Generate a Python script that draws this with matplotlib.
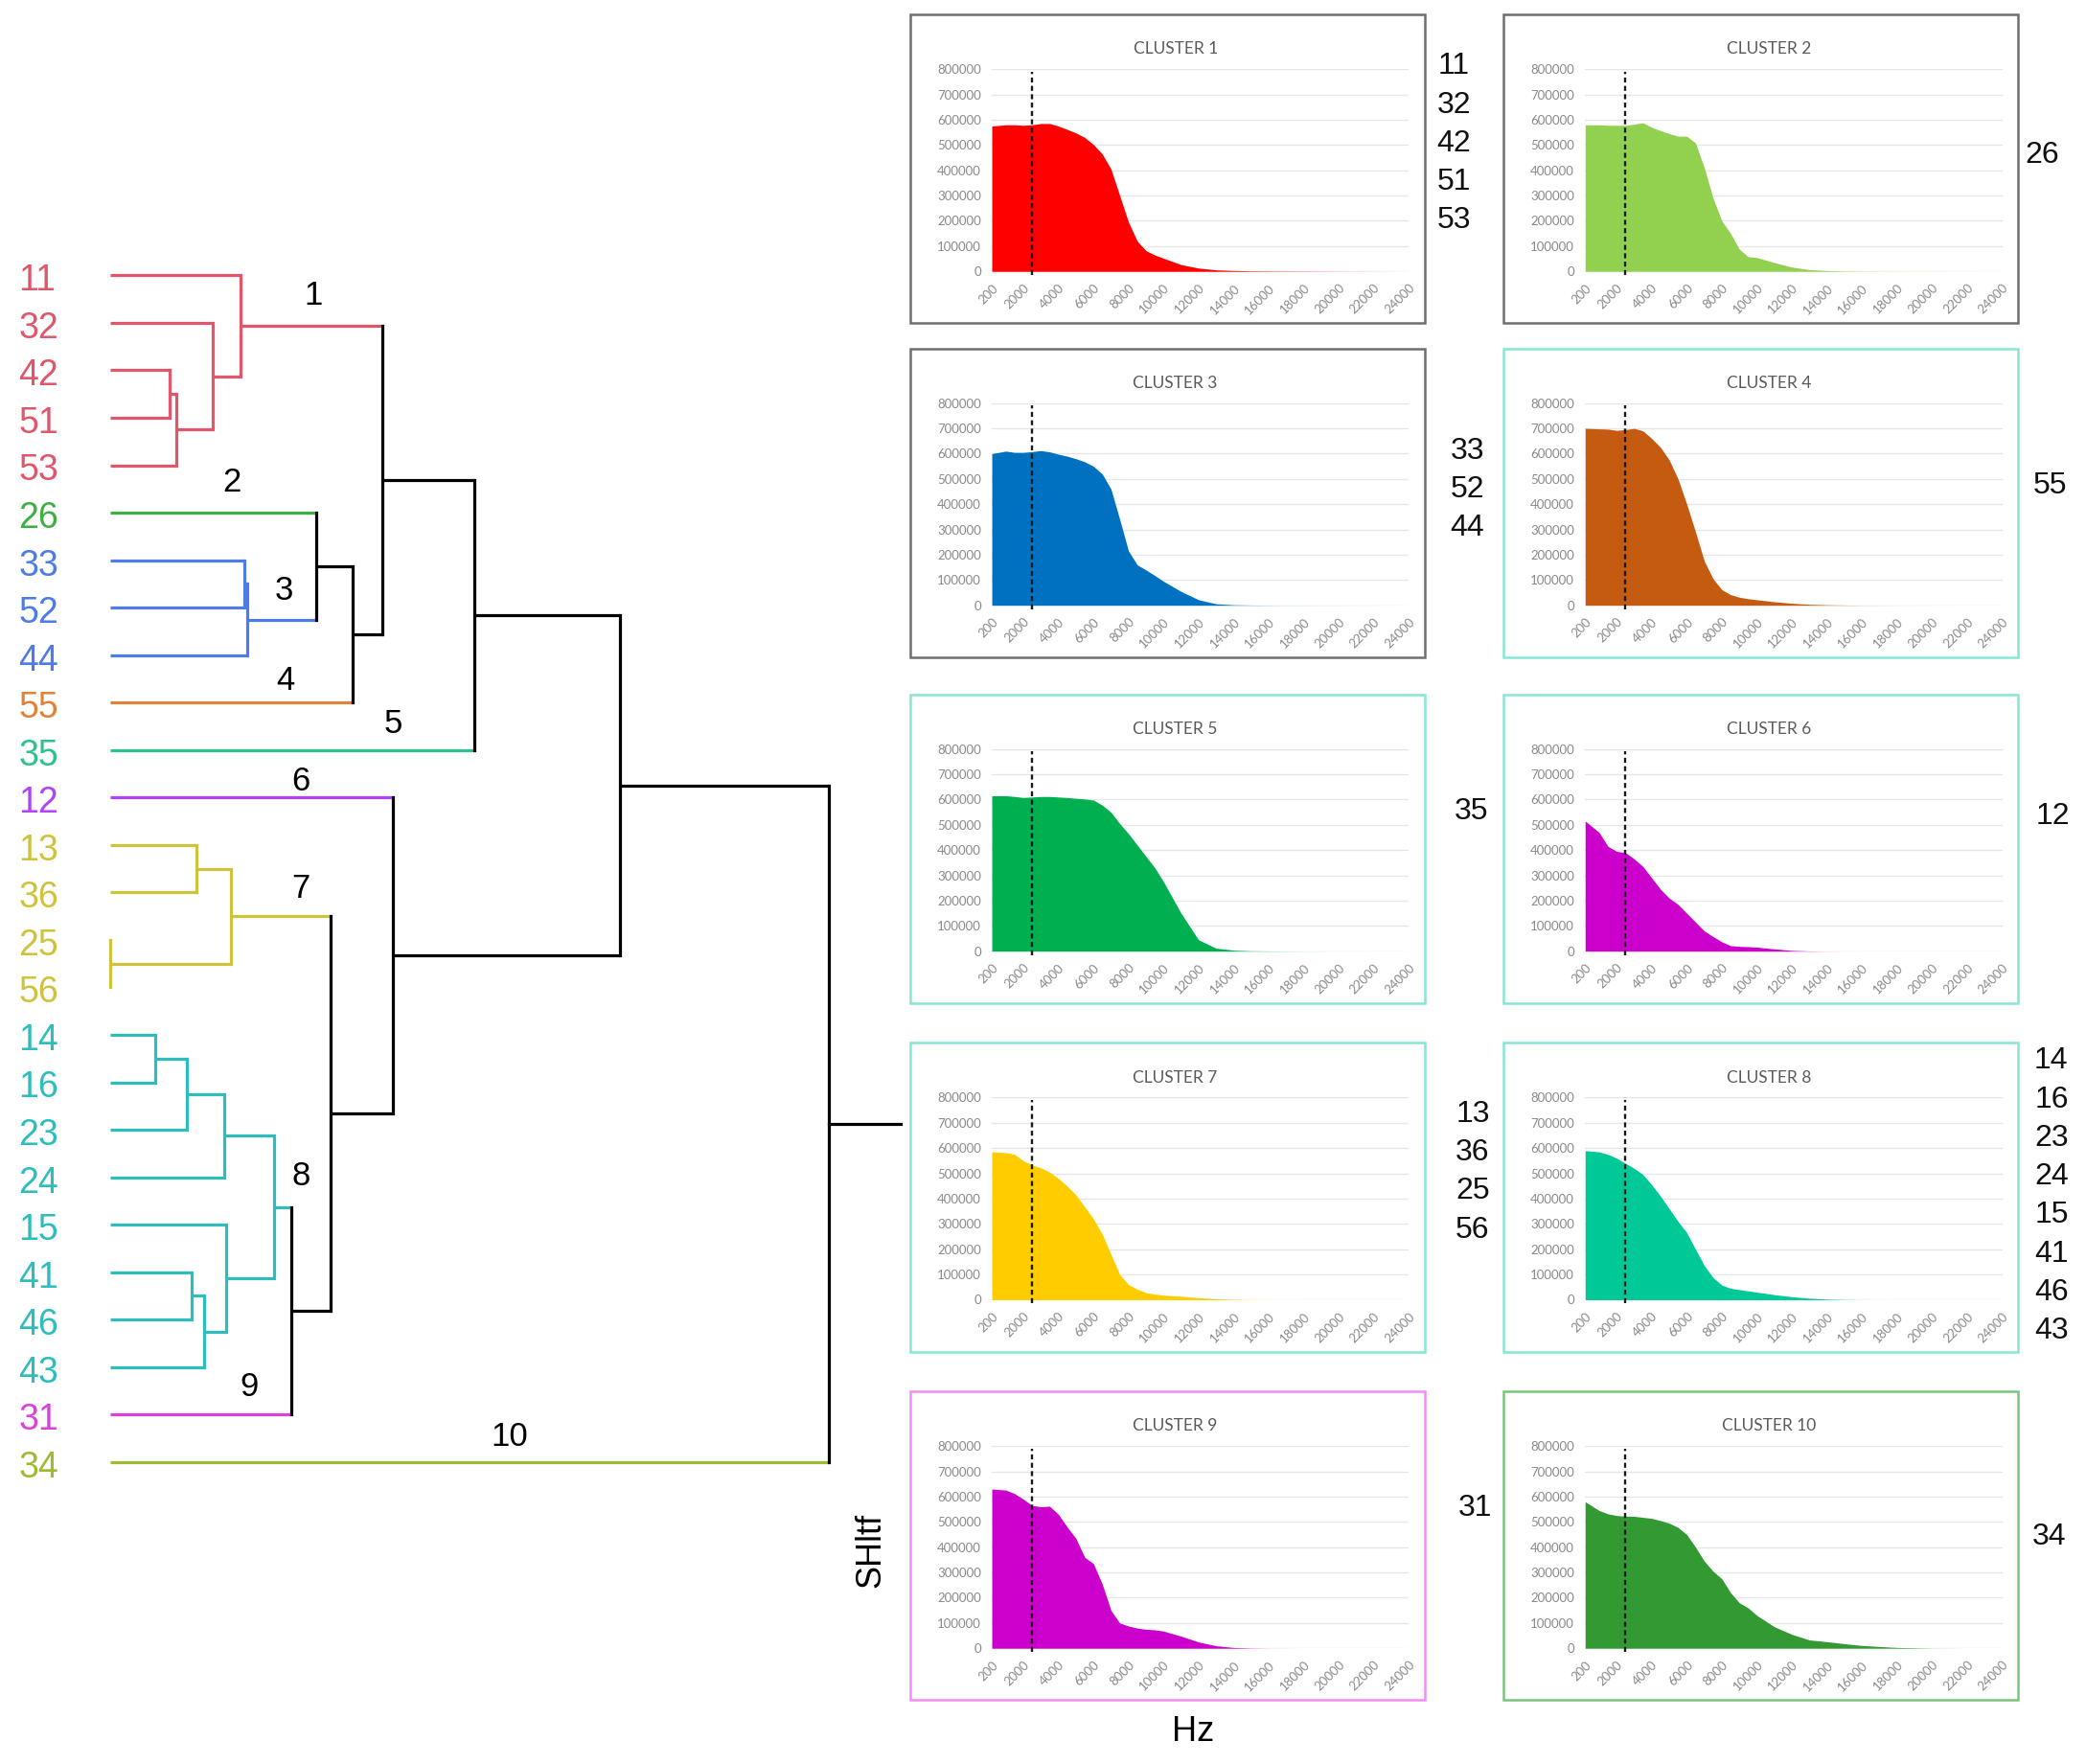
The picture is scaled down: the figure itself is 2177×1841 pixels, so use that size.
import matplotlib
matplotlib.use("Agg")
import matplotlib.pyplot as plt
from matplotlib.patches import Rectangle
import numpy as np

# ---------------- data ----------------
leaves = ['11', '32', '42', '51', '53', '26', '33', '52', '44', '55', '35', '12',
          '13', '36', '25', '56', '14', '16', '23', '24', '15', '41', '46', '43',
          '31', '34']
leaf_cluster = [1, 1, 1, 1, 1, 2, 3, 3, 3, 4, 5, 6, 7, 7, 7, 7, 8, 8, 8, 8, 8, 8, 8, 8, 9, 10]
cluster_line_colors = ['#E0566A', '#3CB043', '#4D7BE8', '#E0833A', '#2CC28C',
                       '#B044F5', '#CFC23C', '#2DBDBD', '#DD3FDD', '#9DBB35']

# merges: (child a, child b, height, cluster colour index or None for black)
merges = [
    (2, 3, 0.083, 1), (26, 4, 0.092, 1), (1, 27, 0.143, 1), (0, 28, 0.181, 1),
    (6, 7, 0.187, 3), (30, 8, 0.191, 3), (5, 31, 0.286, None), (32, 9, 0.337, None),
    (29, 33, 0.378, None), (34, 10, 0.507, None),
    (12, 13, 0.120, 7), (14, 15, 0.0, 7), (36, 37, 0.168, 7),
    (16, 17, 0.063, 8), (39, 18, 0.107, 8), (40, 19, 0.159, 8),
    (21, 22, 0.113, 8), (42, 23, 0.131, 8), (20, 43, 0.161, 8), (41, 44, 0.228, 8),
    (45, 24, 0.252, None), (38, 46, 0.306, None), (11, 47, 0.393, None),
    (35, 48, 0.709, None), (49, 25, 1.0, None),
]
root_stub = 1.10

cluster_nodes = [29, 5, 31, 9, 10, 11, 38, 45, 24, 25]
cluster_label_x = [0.283, 0.169, 0.241, 0.243, 0.394, 0.265, 0.265, 0.265, 0.193, 0.556]
cluster_label_dy = [-0.64, -0.64, -0.60, -0.45, -0.55, -0.33, -0.58, -0.64, -0.59, -0.53]

hz = [200, 1000, 1500, 2000, 2500, 3000, 3500, 4000, 4500, 5000, 5500, 6000, 6500,
      7000, 7500, 8000, 8500, 9000, 9500, 10000, 11000, 12000, 13000, 14000, 15000,
      16000, 18000, 20000, 22000, 24000]
# SHltf values in thousands
cluster1_k = [575, 580, 580, 578, 580, 585, 585, 575, 562, 548, 530, 502, 465, 405, 300,
              195, 120, 82, 65, 52, 27, 13, 6, 3.5, 2, 1.5, 1, 0.5, 0.3, 0]
cluster2_k = [580, 580, 578, 578, 578, 582, 588, 570, 557, 545, 535, 535, 508, 410, 290,
              200, 150, 88, 58, 55, 35, 17, 7, 3, 1.5, 1, 0.5, 0.3, 0.2, 0]
cluster3_k = [600, 610, 605, 605, 608, 612, 607, 598, 590, 580, 568, 550, 520, 460, 340,
              215, 160, 140, 118, 95, 55, 22, 6, 2, 1, 0.5, 0.3, 0.2, 0.1, 0]
cluster4_k = [700, 698, 697, 692, 695, 700, 690, 660, 625, 575, 500, 400, 290, 175, 105,
              62, 42, 32, 26, 22, 14, 8, 4, 2, 1, 0.5, 0.2, 0.1, 0, 0]
cluster5_k = [615, 615, 612, 608, 610, 612, 612, 610, 608, 605, 602, 598, 578, 550, 505,
              465, 420, 375, 330, 275, 150, 45, 12, 4, 1.5, 0.8, 0.3, 0.1, 0, 0]
cluster6_k = [515, 470, 415, 395, 390, 365, 335, 290, 245, 210, 185, 150, 115, 80, 58,
              37, 22, 19, 18, 16, 9, 3, 0.8, 0.3, 0.1, 0, 0, 0, 0, 0]
cluster7_k = [585, 582, 575, 550, 533, 522, 505, 480, 450, 415, 368, 320, 260, 180, 100,
              60, 42, 28, 22, 18, 14, 8, 4, 1.5, 0.5, 0.2, 0, 0, 0, 0]
cluster8_k = [590, 585, 575, 560, 540, 520, 495, 455, 410, 360, 310, 265, 200, 135, 88,
              58, 45, 40, 35, 30, 20, 12, 6, 2.5, 0.8, 0.3, 0, 0, 0, 0]
cluster9_k = [630, 626, 612, 590, 565, 560, 562, 530, 480, 435, 360, 335, 255, 150, 100,
              88, 80, 75, 73, 68, 48, 25, 10, 3, 1, 0.3, 0, 0, 0, 0]
cluster10_k = [580, 545, 532, 525, 523, 522, 518, 514, 505, 495, 478, 450, 400, 345, 305,
               275, 220, 180, 160, 130, 85, 55, 33, 26, 18, 11, 3, 0.5, 0, 0]
cluster_series = [cluster1_k, cluster2_k, cluster3_k, cluster4_k, cluster5_k,
                  cluster6_k, cluster7_k, cluster8_k, cluster9_k, cluster10_k]
fill_colors = ['#FF0000', '#92D050', '#0070C0', '#C55A11', '#00B050',
               '#CC00CC', '#FFCC00', '#00C896', '#CC00CC', '#339933']
box_colors = ['#6E6E6E', '#6E6E6E', '#6E6E6E', '#86E6D2', '#86E6D2',
              '#86E6D2', '#86E6D2', '#86E6D2', '#F28CF2', '#7CC47C']
x_tick_labels = [200, 2000, 4000, 6000, 8000, 10000, 12000, 14000, 16000, 18000,
                 20000, 22000, 24000]
y_ticks = [0, 100000, 200000, 300000, 400000, 500000, 600000, 700000, 800000]
dash_hz = 2500

# ---------------- layout (reference display units) ----------------
W, H = 1568.0, 1326.0
def fx(x): return x / W
def fy(y): return 1 - y / H

fig = plt.figure(figsize=(21.77, 18.41), dpi=100)
fig.patch.set_facecolor('white')

# ---------------- dendrogram ----------------
X0, XS = 83.0, 540.0
Y0, YS = 207.0, 35.68
ax = fig.add_axes([0, 0, 1, 1])
ax.set_axis_off()
ax.set_xlim(-X0 / XS, (W - X0) / XS)
ax.set_ylim((H - Y0) / YS, -Y0 / YS)

n = len(leaves)
pos = {i: (0.0, float(i)) for i in range(n)}
col = {i: cluster_line_colors[leaf_cluster[i] - 1] for i in range(n)}
LW = 2.3
for k, (a, b, h, c) in enumerate(merges):
    node = n + k
    ccol = 'black' if c is None else cluster_line_colors[c - 1]
    ya, yb = pos[a][1], pos[b][1]
    for ch in (a, b):
        hc, yc = pos[ch]
        ax.plot([hc, h], [yc, yc], color=col[ch], lw=LW, solid_capstyle='butt')
    ax.plot([h, h], [ya, yb], color=ccol, lw=LW, solid_capstyle='projecting')
    pos[node] = (h, (ya + yb) / 2)
    col[node] = ccol
root = n + len(merges) - 1
ax.plot([pos[root][0], root_stub], [pos[root][1]] * 2, color='black', lw=LW)

for i, name in enumerate(leaves):
    ax.text(-69 / XS, i + 0.12, name, color=cluster_line_colors[leaf_cluster[i] - 1],
            fontsize=27, ha='left', va='center', family='Liberation Sans')

for j, node in enumerate(cluster_nodes):
    ax.text(cluster_label_x[j], pos[node][1] + cluster_label_dy[j], str(j + 1),
            fontsize=25, ha='center', va='center', family='Liberation Sans', color='black')

# ---------------- cluster panels ----------------
BOX_X = [684, 1130]
BOX_Y = [11, 262, 522, 784, 1046]
BW, BH = 387, 232
SIDE_X = [1093, 1535, 1103, 1541, 1106, 1543, 1107, 1542, 1109, 1540]
SIDE_Y = [108, 117, 368, 365, 610, 614, 881, 899, 1134, 1155]

for i in range(10):
    c, r = i % 2, i // 2
    bx0, by0 = BOX_X[c], BOX_Y[r]
    rect = Rectangle((fx(bx0), fy(by0 + BH)), BW / W, BH / H, transform=fig.transFigure,
                     facecolor='white', edgecolor=box_colors[i], lw=1.8, zorder=1)
    fig.patches.append(rect)
    px0, px1 = bx0 + 61.5, bx0 + BW - 12
    py0, py1 = by0 + 41, by0 + BH - 39
    pax = fig.add_axes([fx(px0), fy(py1), (px1 - px0) / W, (py1 - py0) / H], zorder=3)
    pax.set_facecolor('none')
    vals = np.array(cluster_series[i]) * 1000
    pax.fill_between(hz, 0, vals, color=fill_colors[i], lw=0, zorder=2)
    pax.plot([dash_hz, dash_hz], [-15000, 790000], color='#1a1a1a', lw=1.7,
             ls=(0, (2.2, 1.5)), clip_on=False, zorder=3)
    pax.set_xlim(200, 24000)
    pax.set_ylim(0, 800000)
    pax.set_yticks(y_ticks)
    pax.set_yticklabels([str(v) for v in y_ticks], fontsize=9.5, color='#8A8A8A',
                        family='Lato')
    pax.set_xticks(x_tick_labels)
    pax.set_xticklabels([str(v) for v in x_tick_labels], fontsize=9.5, color='#8A8A8A',
                        family='Lato', rotation=45, ha='right', rotation_mode='anchor')
    pax.tick_params(axis='y', length=0, pad=8)
    pax.tick_params(axis='x', length=0, pad=8)
    pax.grid(axis='y', color='#E6E6E6', lw=1.0, zorder=0)
    pax.set_axisbelow(True)
    for s in pax.spines.values():
        s.set_visible(False)
    fig.text(fx(bx0 + BW / 2 + 6), fy(by0 + 26), f'CLUSTER {i + 1}', ha='center',
             va='center', fontsize=12.5, color='#5A5A5A', family='Lato', zorder=4)
    members = [leaves[k] for k in range(n) if leaf_cluster[k] == i + 1]
    m = len(members)
    for k, name in enumerate(members):
        yy = SIDE_Y[i] + (k - (m - 1) / 2) * 29
        fig.text(fx(SIDE_X[i]), fy(yy), name, ha='center', va='center', fontsize=23,
                 family='Liberation Sans', color='#111111')

fig.text(fx(655), fy(1165), 'SHltf', rotation=90, ha='center', va='center',
         fontsize=26, family='Liberation Sans')
fig.text(fx(897), fy(1302), 'Hz', ha='center', va='center', fontsize=26,
         family='Liberation Sans')

fig.savefig('out.png', dpi=100, facecolor='white')
